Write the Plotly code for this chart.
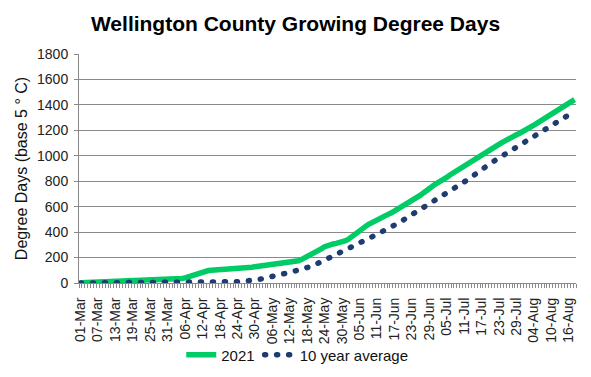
import pandas as pd
import plotly.graph_objects as go

# ---- data (cumulative growing degree days, base 5 °C), one value per day from 01-Mar ----
start_date = "2021-03-01"

gdd_2021 = [
    2, 3, 3, 4, 4, 5, 5, 5, 6, 7,
    8, 8, 8, 9, 9, 9, 10, 10, 10, 11,
    12, 17, 22, 24, 25, 25, 26, 27, 27, 28,
    28, 29, 29, 30, 32, 35, 40, 47, 55, 66,
    76, 84, 90, 95, 98, 100, 101, 103, 104, 105,
    106, 107, 108, 109, 111, 114, 116, 117, 120, 124,
    128, 131, 134, 137, 140, 143, 145, 147, 148, 149,
    150, 152, 155, 160, 167, 175, 184, 195, 207, 218,
    228, 240, 255, 270, 285, 296, 303, 307, 311, 315,
    321, 330, 341, 356, 373, 390, 407, 425, 443, 460,
    473, 486, 500, 512, 522, 532, 541, 552, 565, 580,
    593, 605, 615, 628, 642, 657, 674, 690, 708, 728,
    746, 762, 776, 789, 800, 815, 830, 847, 862, 874,
    886, 899, 913, 927, 942, 958, 974, 990, 1005, 1020,
    1034, 1048, 1062, 1076, 1090, 1104, 1118, 1131, 1143, 1155,
    1165, 1175, 1186, 1198, 1211, 1225, 1240, 1254, 1268, 1282,
    1297, 1313, 1330, 1347, 1363, 1378, 1392, 1405, 1417, 1429,
    1441,
]

gdd_10yr = [
    0, 0, 0, 0, 0, 0, 1, 1, 1, 1,
    1, 1, 1, 1, 2, 2, 2, 2, 2, 2,
    2, 2, 3, 3, 3, 3, 3, 3, 3, 3,
    3, 3, 3, 4, 4, 4, 4, 4, 4, 4,
    4, 4, 5, 5, 5, 5, 5, 5, 5, 6,
    6, 7, 8, 9, 10, 11, 12, 13, 15, 18,
    22, 26, 31, 35, 40, 45, 50, 56, 62, 67,
    73, 78, 83, 88, 93, 100, 106, 113, 120, 128,
    137, 145, 154, 166, 179, 191, 203, 216, 229, 242,
    252, 263, 273, 284, 295, 305, 316, 326, 336, 347,
    357, 368, 380, 393, 405, 417, 429, 441, 452, 466,
    480, 494, 508, 522, 536, 550, 562, 575, 587, 600,
    615, 630, 645, 659, 674, 688, 703, 718, 734, 750,
    765, 779, 794, 809, 823, 838, 853, 871, 889, 907,
    925, 940, 955, 969, 983, 997, 1010, 1025, 1040, 1055,
    1070, 1084, 1099, 1113, 1128, 1142, 1157, 1171, 1184, 1197,
    1210, 1224, 1238, 1252, 1266, 1280, 1294, 1308, 1322, 1336,
    1350,
]

tick_labels = [
    "01-Mar", "07-Mar", "13-Mar", "19-Mar", "25-Mar", "31-Mar",
    "06-Apr", "12-Apr", "18-Apr", "24-Apr", "30-Apr",
    "06-May", "12-May", "18-May", "24-May", "30-May",
    "05-Jun", "11-Jun", "17-Jun", "23-Jun", "29-Jun",
    "05-Jul", "11-Jul", "17-Jul", "23-Jul", "29-Jul",
    "04-Aug", "10-Aug", "16-Aug",
]

y_ticks = [0, 200, 400, 600, 800, 1000, 1200, 1400, 1600, 1800]

# ---- categories (days) ----
dates = pd.date_range(start_date, periods=len(gdd_2021), freq="D")
tick_dates = pd.to_datetime([f"2021-{lbl[3:]}-{lbl[:2]}" for lbl in tick_labels], format="%Y-%b-%d")

FONT = "Liberation Sans, Arial, sans-serif"
GRID = "#8a8a8a"

fig = go.Figure()
fig.add_trace(go.Scatter(
    x=dates, y=gdd_2021, name="2021", mode="lines",
    line=dict(color="#00cc66", width=5.5),
))
fig.add_trace(go.Scatter(
    x=dates, y=gdd_10yr, name="10 year average", mode="lines",
    line=dict(color="#1f3b6f", width=5.5, dash="1px,11px"),
))

half_day = pd.Timedelta(hours=12)
fig.update_layout(
    width=591, height=377,
    margin=dict(l=79, r=15, t=54, b=94, autoexpand=False),
    paper_bgcolor="white", plot_bgcolor="white",
    font=dict(family=FONT, color="#222222", size=14),
    title=dict(
        text="<b>Wellington County Growing Degree Days</b>",
        x=0.5, xref="container", xanchor="center",
        y=1 - 24 / 377, yref="container", yanchor="middle",
        font=dict(family=FONT, size=21, color="black"),
    ),
    showlegend=True,
    legend=dict(
        orientation="h",
        x=0.503, xref="container", xanchor="center",
        y=1 - 355 / 377, yref="container", yanchor="middle",
        font=dict(family=FONT, size=15, color="#111111"),
        bgcolor="rgba(0,0,0,0)",
    ),
    xaxis=dict(
        type="date",
        range=[dates[0] - half_day, dates[-1] + half_day],
        tickmode="array", tickvals=tick_dates, ticktext=tick_labels,
        tickangle=-90, ticks="", ticklabelstandoff=8,
        tickfont=dict(size=14, family=FONT, color="#222222"),
        showline=True, linecolor=GRID, linewidth=1,
        showgrid=False, zeroline=False,
        minor=dict(ticks="outside", ticklen=4, tickcolor=GRID, tickwidth=1,
                   dtick=86400000, tick0="2021-02-28 12:00", showgrid=False),
    ),
    yaxis=dict(
        range=[0, 1800], tickmode="array", tickvals=y_ticks,
        ticks="outside", ticklen=4, tickcolor=GRID,
        tickfont=dict(size=14, family=FONT, color="#222222"),
        ticklabelstandoff=3,
        showline=True, linecolor=GRID, linewidth=1,
        showgrid=True, gridcolor=GRID, gridwidth=1,
        zeroline=False,
        title=dict(text="Degree Days (base 5 ° C)", standoff=5,
                   font=dict(size=16, family=FONT, color="#111111")),
    ),
)

# page margin off, and round caps on the dotted line so that its dots are round
post = """
document.body.style.margin = '0';
document.body.style.padding = '0';
var gd = document.getElementById('{plot_id}');
function roundDots(){
  gd.querySelectorAll('path.js-line').forEach(function(p){
    var d = p.style.strokeDasharray;
    if (d && d !== 'none') { p.style.strokeLinecap = 'round'; }
  });
}
roundDots();
gd.on('plotly_afterplot', roundDots);
"""

fig.write_html("out.html", post_script=post,
               config={"displayModeBar": False, "staticPlot": True})
